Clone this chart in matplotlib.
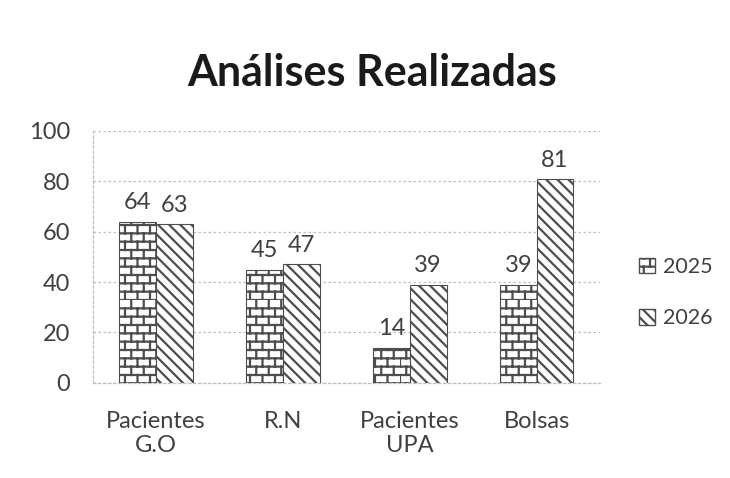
import warnings
import numpy as np
import matplotlib
matplotlib.use("Agg")
import matplotlib.pyplot as plt
import matplotlib.hatch as mhatch
from matplotlib.path import Path
from matplotlib.patches import Patch

# Data
categorias = ["Pacientes\nG.O", "R.N", "Pacientes\nUPA", "Bolsas"]
anos = ["2025", "2026"]
valores_2025 = [64, 45, 14, 39]
valores_2026 = [63, 47, 39, 81]
yticks = [0, 20, 40, 60, 80, 100]


class Bricks(mhatch.HatchPatternBase):
    # brick pattern like the Excel fill ('b' in the hatch string)
    def __init__(self, hatch, density):
        self.on = hatch.count('b') > 0
        self.rows = 2 * density
        self.cols = density + 2
        if self.on:
            self.num_vertices = 2 * self.rows + 2 * self.rows * self.cols
        else:
            self.num_vertices = 0

    def set_vertices_and_codes(self, vertices, codes):
        k = 0
        for i in range(self.rows):
            y0 = i / self.rows
            y1 = (i + 1) / self.rows
            vertices[k] = (0, y0)
            vertices[k + 1] = (1, y0)
            codes[k] = Path.MOVETO
            codes[k + 1] = Path.LINETO
            k += 2
            off = 0 if i % 2 == 0 else 0.5 / self.cols
            for j in range(self.cols):
                x = off + j / self.cols
                vertices[k] = (x, y0)
                vertices[k + 1] = (x, y1)
                codes[k] = Path.MOVETO
                codes[k + 1] = Path.LINETO
                k += 2


mhatch._hatch_types.append(Bricks)
warnings.filterwarnings("ignore")

plt.rcParams['font.family'] = ['Lato', 'DejaVu Sans']
plt.rcParams['hatch.linewidth'] = 1.6

texto = '#404040'
grade = '#bfbfbf'
borda = '#4d4d4d'

fig = plt.figure(figsize=(7.3, 4.78), dpi=100)
ax = fig.add_axes([0.127, 0.199, 0.695, 0.527])

x = np.arange(len(categorias))
w = 0.29
b1 = ax.bar(x - w / 2, valores_2025, w, color='white', edgecolor=borda,
            hatch='b', linewidth=0.8, zorder=3)
b2 = ax.bar(x + w / 2, valores_2026, w, color='white', edgecolor=borda,
            hatch='\\\\\\', linewidth=0.8, zorder=3)

for barras, vals in [(b1, valores_2025), (b2, valores_2026)]:
    for r, v in zip(barras, vals):
        ax.annotate(str(v), (r.get_x() + r.get_width() / 2, v),
                    xytext=(0, 6), textcoords='offset points',
                    ha='center', va='bottom', fontsize=17, color=texto)

ax.set_ylim(0, 100)
ax.set_yticks(yticks)
ax.set_xlim(-0.5, len(categorias) - 0.5)
ax.set_xticks(x)
ax.set_xticklabels(categorias, fontsize=17, color=texto, linespacing=1.2)
ax.tick_params(axis='y', labelsize=17, labelcolor=texto, length=0, pad=16)
ax.tick_params(axis='x', length=0, pad=20)

ax.grid(axis='y', color=grade, linestyle=(0, (2, 2)), linewidth=0.9, zorder=0)
for s in ['top', 'right']:
    ax.spines[s].set_visible(False)
for s in ['left', 'bottom']:
    ax.spines[s].set_color(grade)
    ax.spines[s].set_linestyle((0, (2, 2)))
    ax.spines[s].set_linewidth(0.9)

fig.text(0.510, 0.848, "Análises Realizadas", ha='center', va='center',
         fontsize=31, fontweight='bold', color='#1a1a1a')

handles = [Patch(facecolor='white', edgecolor=borda, hatch='b', label=anos[0]),
           Patch(facecolor='white', edgecolor=borda, hatch='\\\\\\', label=anos[1])]
fig.legend(handles=handles, loc='center left', bbox_to_anchor=(0.849, 0.388),
           frameon=False, fontsize=15.5, labelcolor=texto, handlelength=0.75,
           handleheight=0.75, handletextpad=0.35, labelspacing=1.45)

fig.savefig("out.png", dpi=100, facecolor='white')
